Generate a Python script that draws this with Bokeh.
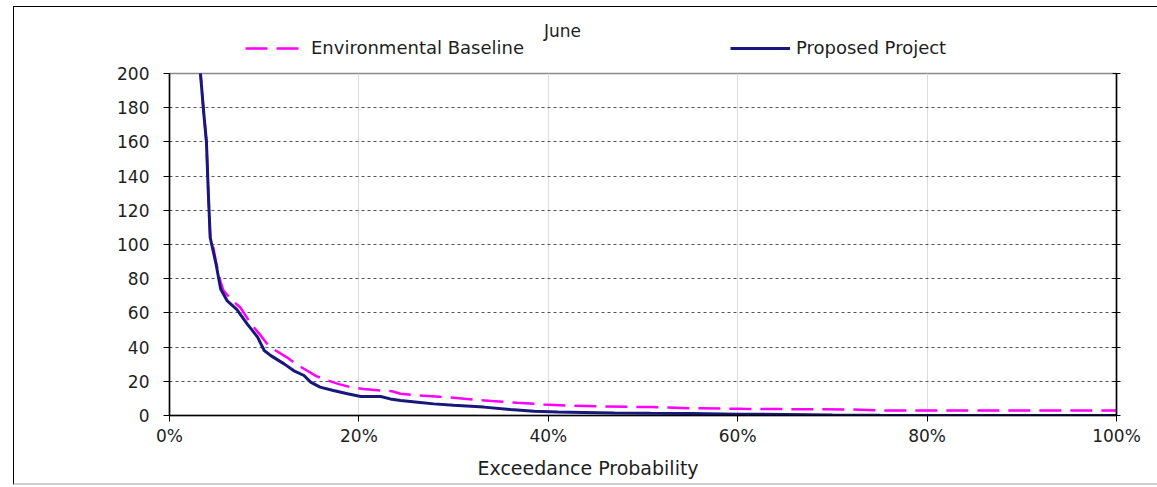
from bokeh.plotting import figure
from bokeh.layouts import column
from bokeh.models import (LinearAxis, Legend, LegendItem, NumeralTickFormatter, Title, Label,
                          FixedTicker, Range1d, InlineStyleSheet)
from bokeh.embed import file_html
from bokeh.resources import INLINE

# ---- data ----
title_text = "June"
x_title = "Exceedance Probability"
series_names = ["Environmental Baseline", "Proposed Project"]

prob_project = [0.030, 0.0327, 0.036, 0.039, 0.041, 0.043, 0.049, 0.054, 0.061, 0.071,
                0.082, 0.093, 0.100, 0.107, 0.121, 0.131, 0.142, 0.149, 0.159, 0.173,
                0.188, 0.202, 0.223, 0.233, 0.244, 0.262, 0.279, 0.300, 0.332, 0.360,
                0.385, 0.410, 0.437, 0.470, 0.508, 0.550, 0.600, 0.650, 0.700, 0.750, 1.000]
flow_project = [225, 200, 178, 160, 130, 104, 89, 74, 67, 62,
                53.6, 45.8, 38, 35, 30.2, 26.3, 23.4, 19.5, 16.6, 14.6,
                12.7, 11.1, 11.1, 9.7, 8.8, 7.8, 6.8, 6.0, 4.9, 3.5,
                2.5, 2.0, 1.8, 1.5, 1.3, 1.1, 0.8, 0.6, 0.3, 0.1, 0.0]

prob_baseline = [0.030, 0.0327, 0.036, 0.039, 0.041, 0.043, 0.045, 0.049, 0.054, 0.057,
                 0.065, 0.075, 0.082, 0.089, 0.096, 0.103, 0.112, 0.124, 0.134, 0.145,
                 0.155, 0.167, 0.178, 0.191, 0.205, 0.223, 0.235, 0.244, 0.262, 0.285,
                 0.314, 0.340, 0.367, 0.395, 0.420, 0.460, 0.508, 0.549, 0.605, 0.660,
                 0.720, 0.760, 0.850, 1.000]
flow_baseline = [225, 200, 178, 160, 130, 104, 102, 90, 78, 73,
                 68, 63, 57, 51.6, 47, 42, 38, 34, 30, 26.3,
                 23, 20.5, 18.5, 16.6, 15.5, 14.6, 14.2, 12.7, 11.7, 11.0,
                 9.7, 8.5, 7.4, 6.5, 5.8, 5.3, 4.9, 4.3, 3.9, 3.7,
                 3.5, 2.9, 2.9, 2.9]

x_ticks = [0, 0.2, 0.4, 0.6, 0.8, 1.0]
y_ticks = [0, 20, 40, 60, 80, 100, 120, 140, 160, 180, 200]

FONT = "DejaVu Sans"
NAVY = "#17177c"
MAGENTA = "#ff00ff"
TXT = "#1e1e1e"
BASE_STYLE = dict(line_color=MAGENTA, line_width=2.5, line_dash="22 9")
PROJ_STYLE = dict(line_color=NAVY, line_width=3)

TOP_H = 63
LEFT, RIGHT = 169, 41

# ---- header strip: title and legend (x data = page pixels) ----
top = figure(width=1157, height=TOP_H, x_range=Range1d(LEFT, 1157 - RIGHT),
             y_range=Range1d(TOP_H, 0),
             x_axis_type=None, y_axis_type=None, output_backend="svg", toolbar_location=None,
             min_border_left=LEFT, min_border_right=RIGHT, min_border_top=0,
             min_border_bottom=0, outline_line_color=None,
             background_fill_color="white", border_fill_color="white")
# key-only renderers, kept outside the visible range of the header strip
k_base = top.line([LEFT, LEFT + 1], [-50, -50], **BASE_STYLE)
k_proj = top.line([LEFT, LEFT + 1], [-50, -50], **PROJ_STYLE)

leg_common = dict(orientation="horizontal", glyph_width=60, glyph_height=20, label_height=20,
                  label_standoff=6, padding=0, margin=0, border_line_alpha=0,
                  background_fill_alpha=0, label_text_font=FONT, label_text_font_size="18px",
                  label_text_color=TXT)
top.add_layout(Legend(items=[LegendItem(label=series_names[0], renderers=[k_base])],
                      location=(245 - LEFT, 5), **leg_common))
top.add_layout(Legend(items=[LegendItem(label=series_names[1], renderers=[k_proj])],
                      location=(730 - LEFT, 5), **leg_common))
top.add_layout(Label(x=562, y=30, text=title_text, text_align="center",
                     text_baseline="middle", text_font=FONT, text_font_size="17px",
                     text_color=TXT))

# ---- main chart ----
p = figure(width=1157, height=487 - TOP_H, x_range=Range1d(0, 1), y_range=Range1d(0, 200),
           output_backend="svg", toolbar_location=None,
           min_border_left=LEFT, min_border_right=RIGHT, min_border_top=73 - TOP_H,
           min_border_bottom=72,
           background_fill_color="white", border_fill_color="white")

p.outline_line_color = "#8a8a8a"
p.outline_line_width = 1.5

p.xgrid.ticker = FixedTicker(ticks=x_ticks)
p.xgrid.grid_line_color = "#dcdcdc"
p.xgrid.grid_line_width = 1
p.ygrid.ticker = FixedTicker(ticks=y_ticks)
p.ygrid.grid_line_color = "#555555"
p.ygrid.grid_line_dash = "3 3"
p.ygrid.grid_line_width = 1

xa = p.xaxis[0]
xa.ticker = FixedTicker(ticks=x_ticks)
xa.formatter = NumeralTickFormatter(format="0%")
xa.major_tick_out = 6
xa.major_tick_in = 0
xa.minor_tick_out = 0
xa.minor_tick_in = 0
xa.axis_line_color = "black"
xa.axis_line_width = 1.5
xa.major_tick_line_color = "black"
xa.major_label_standoff = 4
xa.major_label_text_font = FONT
xa.major_label_text_font_size = "17px"
xa.major_label_text_color = TXT

ya = p.yaxis[0]
ya.ticker = FixedTicker(ticks=y_ticks)
ya.major_tick_out = 6
ya.major_tick_in = 0
ya.minor_tick_out = 0
ya.minor_tick_in = 0
ya.axis_line_color = "black"
ya.axis_line_width = 1.5
ya.major_tick_line_color = "black"
ya.major_label_standoff = 14
ya.major_label_text_font = FONT
ya.major_label_text_font_size = "17px"
ya.major_label_text_color = TXT

ra = LinearAxis(ticker=FixedTicker(ticks=y_ticks),
                major_label_overrides={t: "" for t in y_ticks},
                major_tick_in=4, major_tick_out=4, minor_tick_in=0, minor_tick_out=0,
                axis_line_color="black", axis_line_width=1.5, major_tick_line_color="black")
p.add_layout(ra, "right")

r_base = p.line(prob_baseline, flow_baseline, **BASE_STYLE)
r_proj = p.line(prob_project, flow_project, **PROJ_STYLE)

axis_title = Title(text=x_title, align="left", offset=308, standoff=12,
                   text_font=FONT, text_font_size="19px", text_font_style="normal",
                   text_color=TXT)
p.add_layout(axis_title, "below")

layout = column(top, p, spacing=0)
layout.stylesheets = [InlineStyleSheet(css=(
    ":host { position: relative; }"
    ":host::after { content: ''; position: absolute; left: 13px; top: 6px; "
    "width: 1144px; height: 479px; box-sizing: border-box; "
    "border-left: 1.5px solid #000; border-top: 1.5px solid #000; "
    "border-bottom: 2px solid #d0d0d0; pointer-events: none; }"
))]

open("out.html", "w").write(file_html(layout, INLINE))
